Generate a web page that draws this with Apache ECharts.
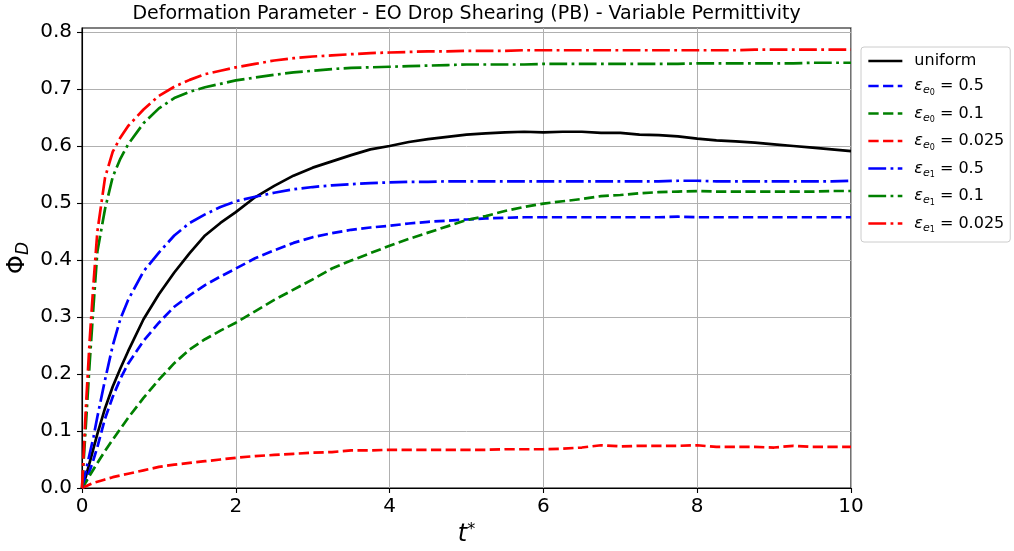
<!DOCTYPE html>
<html>
<head>
<meta charset="utf-8">
<title>Deformation Parameter</title>
<script src="https://cdn.jsdelivr.net/npm/echarts@6/dist/echarts.min.js"></script>
<style>
  html, body { margin: 0; padding: 0; background: #fff; }
  #chart { width: 1014px; height: 551px; }
</style>
</head>
<body>
<div id="chart"></div>
<script>
// time samples (t*) shared by all runs
const tStar = [0, 0.05, 0.1, 0.15, 0.2, 0.3, 0.4, 0.5, 0.6, 0.8, 1.0,
  1.2, 1.4, 1.6, 1.8, 2.0, 2.25, 2.5, 2.75, 3.0, 3.25, 3.5, 3.75, 4.0,
  4.25, 4.5, 4.75, 5.0, 5.25, 5.5, 5.75, 6.0, 6.25, 6.5, 6.75, 7.0,
  7.25, 7.5, 7.75, 8.0, 8.25, 8.5, 8.75, 9.0, 9.25, 9.5, 9.75, 10.0];

const uniform = [0, 0.02, 0.045, 0.07, 0.095, 0.14, 0.178, 0.21, 0.24, 0.296, 0.34,
  0.378, 0.412, 0.443, 0.465, 0.484, 0.51, 0.53, 0.548, 0.562, 0.573, 0.584, 0.594, 0.600,
  0.607, 0.612, 0.616, 0.620, 0.622, 0.624, 0.625, 0.624, 0.625, 0.625, 0.623, 0.623,
  0.620, 0.619, 0.617, 0.613, 0.610, 0.608, 0.606, 0.603, 0.600, 0.597, 0.594, 0.591];

const e0_05 = [0, 0.012, 0.03, 0.05, 0.072, 0.122, 0.16, 0.192, 0.218, 0.258, 0.29,
  0.318, 0.338, 0.356, 0.371, 0.385, 0.403, 0.417, 0.43, 0.44, 0.447, 0.453, 0.457, 0.46,
  0.464, 0.467, 0.469, 0.471, 0.473, 0.474, 0.475, 0.475, 0.475, 0.475, 0.475, 0.475,
  0.475, 0.475, 0.476, 0.475, 0.475, 0.475, 0.475, 0.475, 0.475, 0.475, 0.475, 0.475];

const e0_01 = [0, 0.01, 0.022, 0.033, 0.044, 0.065, 0.085, 0.104, 0.123, 0.158, 0.19,
  0.219, 0.243, 0.261, 0.276, 0.29, 0.31, 0.33, 0.348, 0.366, 0.385, 0.399, 0.412, 0.425,
  0.437, 0.448, 0.459, 0.47, 0.477, 0.486, 0.493, 0.499, 0.503, 0.507, 0.512, 0.514,
  0.517, 0.519, 0.520, 0.521, 0.520, 0.520, 0.520, 0.520, 0.520, 0.520, 0.521, 0.521];

const e0_0025 = [0, 0.003, 0.006, 0.009, 0.011, 0.015, 0.019, 0.022, 0.025, 0.031, 0.037,
  0.041, 0.044, 0.047, 0.05, 0.053, 0.056, 0.058, 0.06, 0.062, 0.063, 0.066, 0.066, 0.067,
  0.067, 0.067, 0.067, 0.067, 0.067, 0.068, 0.068, 0.068, 0.069, 0.071, 0.075, 0.073,
  0.074, 0.074, 0.074, 0.075, 0.072, 0.072, 0.072, 0.071, 0.074, 0.072, 0.072, 0.072];

const e1_05 = [0, 0.03, 0.06, 0.09, 0.125, 0.19, 0.25, 0.297, 0.33, 0.38, 0.413,
  0.443, 0.465, 0.48, 0.493, 0.503, 0.511, 0.518, 0.524, 0.528, 0.531, 0.533, 0.535, 0.536,
  0.537, 0.537, 0.538, 0.538, 0.538, 0.538, 0.538, 0.538, 0.538, 0.538, 0.538, 0.538,
  0.538, 0.538, 0.539, 0.539, 0.538, 0.538, 0.538, 0.538, 0.538, 0.538, 0.538, 0.539];

const e1_01 = [0, 0.11, 0.22, 0.32, 0.415, 0.49, 0.546, 0.578, 0.603, 0.64, 0.666,
  0.684, 0.695, 0.703, 0.709, 0.715, 0.72, 0.725, 0.729, 0.732, 0.735, 0.737, 0.738, 0.739,
  0.740, 0.741, 0.742, 0.743, 0.743, 0.743, 0.743, 0.744, 0.744, 0.744, 0.744, 0.744,
  0.744, 0.744, 0.744, 0.745, 0.745, 0.745, 0.745, 0.745, 0.745, 0.746, 0.746, 0.746];

const e1_0025 = [0, 0.14, 0.26, 0.36, 0.45, 0.545, 0.59, 0.615, 0.635, 0.664, 0.688,
  0.704, 0.716, 0.726, 0.732, 0.738, 0.744, 0.75, 0.754, 0.757, 0.759, 0.761, 0.763, 0.764,
  0.765, 0.766, 0.766, 0.767, 0.767, 0.767, 0.768, 0.768, 0.768, 0.768, 0.768, 0.768,
  0.768, 0.768, 0.768, 0.768, 0.768, 0.768, 0.769, 0.769, 0.769, 0.769, 0.769, 0.769];

const xTicks = [0, 2, 4, 6, 8, 10];
const yTicks = [0, 0.1, 0.2, 0.3, 0.4, 0.5, 0.6, 0.7, 0.8];
const yTickLabels = ["0.0", "0.1", "0.2", "0.3", "0.4", "0.5", "0.6", "0.7", "0.8"];

const FONT = "DejaVu Sans";
const DASHED = [10.3, 4.4];
const DASHDOT = [17.8, 4.4, 2.8, 4.4];

// name, values, colour, dash, legend label (rich text)
const runs = [
  ["uniform", uniform, "#000000", "solid", "{b|uniform}"],
  ["e0_0.5", e0_05, "#0000ff", DASHED, "{eps|ε}{e|e}{n|0}{b| = 0.5}"],
  ["e0_0.1", e0_01, "#008000", DASHED, "{eps|ε}{e|e}{n|0}{b| = 0.1}"],
  ["e0_0.025", e0_0025, "#ff0000", DASHED, "{eps|ε}{e|e}{n|0}{b| = 0.025}"],
  ["e1_0.5", e1_05, "#0000ff", DASHDOT, "{eps|ε}{e|e}{n|1}{b| = 0.5}"],
  ["e1_0.1", e1_01, "#008000", DASHDOT, "{eps|ε}{e|e}{n|1}{b| = 0.1}"],
  ["e1_0.025", e1_0025, "#ff0000", DASHDOT, "{eps|ε}{e|e}{n|1}{b| = 0.025}"]
];
const legendText = {};
runs.forEach(r => { legendText[r[0]] = r[4]; });

const chart = echarts.init(document.getElementById("chart"), null, { renderer: "canvas" });

const option = {
  backgroundColor: "#ffffff",
  animation: false,
  textStyle: { fontFamily: FONT },
  grid: {
    left: 82, right: 163, top: 28, bottom: 63,
    show: true, borderColor: "#000", borderWidth: 1.1,
    outerBoundsMode: "none"
  },
  legend: {
    orient: "vertical",
    left: 861, top: 47,
    padding: [6, 6, 8, 6],
    itemGap: 6.5,
    itemWidth: 34, itemHeight: 14,
    selectedMode: false,
    backgroundColor: "rgba(255,255,255,0.8)",
    borderColor: "#cccccc", borderWidth: 1, borderRadius: 3,
    itemStyle: { opacity: 0 },
    lineStyle: { width: 2.7 },
    data: runs.map(r => r[0]),
    formatter: name => legendText[name],
    textStyle: {
      padding: [0, 0, 0, 7],
      rich: {
        b: { fontFamily: FONT, fontSize: 16, lineHeight: 21, color: "#000" },
        eps: { fontFamily: FONT, fontSize: 16, lineHeight: 21, fontStyle: "italic", color: "#000" },
        e: { fontFamily: FONT, fontSize: 11, lineHeight: 11, fontStyle: "italic", color: "#000", padding: [9, 0, 0, 0] },
        n: { fontFamily: FONT, fontSize: 8, lineHeight: 8, color: "#000", padding: [13, 0, 0, 0] }
      }
    }
  },
  xAxis: [
    {
      type: "value",
      min: 0, max: 10, interval: 2,
      name: "{t|t}{s|*}",
      nameLocation: "middle",
      nameGap: 32,
      nameTextStyle: {
        rich: {
          t: { fontFamily: FONT, fontSize: 24, lineHeight: 28, fontStyle: "italic", color: "#000" },
          s: { fontFamily: FONT, fontSize: 16, lineHeight: 16, color: "#000", padding: [0, 0, 10, 0] }
        }
      },
      axisLine: { show: true, lineStyle: { color: "#000", width: 1.1 } },
      axisTick: { show: true, length: 5, customValues: xTicks, lineStyle: { color: "#000", width: 1.1 } },
      axisLabel: {
        customValues: xTicks,
        fontFamily: FONT, fontSize: 20, color: "#000", margin: 9
      },
      splitLine: { show: true, lineStyle: { color: "#b0b0b0", width: 1 } }
    },
    {
      type: "value",
      position: "top",
      min: 0, max: 10,
      name: "Deformation Parameter - EO Drop Shearing (PB) - Variable Permittivity",
      nameLocation: "middle",
      nameGap: 4,
      nameTextStyle: { fontFamily: FONT, fontSize: 19, color: "#000" },
      axisLine: { show: false },
      axisTick: { show: false },
      axisLabel: { show: false },
      splitLine: { show: false }
    }
  ],
  yAxis: {
    type: "value",
    min: 0, max: 0.807, interval: 0.1,
    name: "{p|Φ}{d|D}",
    nameLocation: "middle",
    nameRotate: 90,
    nameGap: 50,
    nameMoveOverlap: false,
    nameTextStyle: {
      rich: {
        p: { fontFamily: FONT, fontSize: 24, lineHeight: 28, color: "#000" },
        d: { fontFamily: FONT, fontSize: 17, lineHeight: 17, fontStyle: "italic", color: "#000", padding: [12, 0, 0, 0] }
      }
    },
    axisLine: { show: true, lineStyle: { color: "#000", width: 1.1 } },
    axisTick: { show: true, length: 5, customValues: yTicks, lineStyle: { color: "#000", width: 1.1 } },
    axisLabel: {
      customValues: yTicks,
      fontFamily: FONT, fontSize: 20, color: "#000", margin: 10,
      formatter: v => {
        const i = yTicks.findIndex(t => Math.abs(t - v) < 1e-6);
        return i >= 0 ? yTickLabels[i] : "";
      }
    },
    splitLine: { show: true, lineStyle: { color: "#b0b0b0", width: 1 } }
  },
  series: runs.map(r => ({
    name: r[0],
    type: "line",
    xAxisIndex: 0,
    data: tStar.map((t, i) => [t, r[1][i]]),
    showSymbol: false,
    symbol: "none",
    clip: true,
    lineStyle: { color: r[2], width: 2.7, type: r[3] },
    itemStyle: { color: r[2] }
  }))
};

chart.setOption(option);
</script>
</body>
</html>
